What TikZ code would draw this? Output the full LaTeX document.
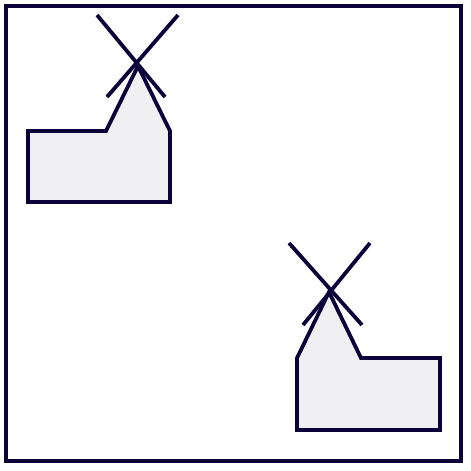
\documentclass[tikz,border=0pt]{standalone}
\definecolor{mill}{RGB}{12,2,58}
\definecolor{millfill}{RGB}{240,240,243}
\begin{document}
\begin{tikzpicture}[x=1pt,y=-1pt,line width=3.8pt]
    \useasboundingbox (0,0) rectangle (471,471);
    \draw[mill, line width=4.2pt] (6,6) rectangle (461,461);

    % upper mill
    \draw[mill, fill=millfill] (28,131) -- (106,131) -- (138,66) -- (170,131)
    -- (170,202) -- (28,202) -- cycle;
    \draw[mill] (97,15) -- (165,97);
    \draw[mill] (178,15) -- (107,97);

    % lower mill
    \draw[mill, fill=millfill] (297,358) -- (329,292) -- (361,358) -- (440,358)
    -- (440,430) -- (297,430) -- cycle;
    \draw[mill] (289,243) -- (362,325);
    \draw[mill] (370,243) -- (303,325);

\end{tikzpicture}
\end{document}
